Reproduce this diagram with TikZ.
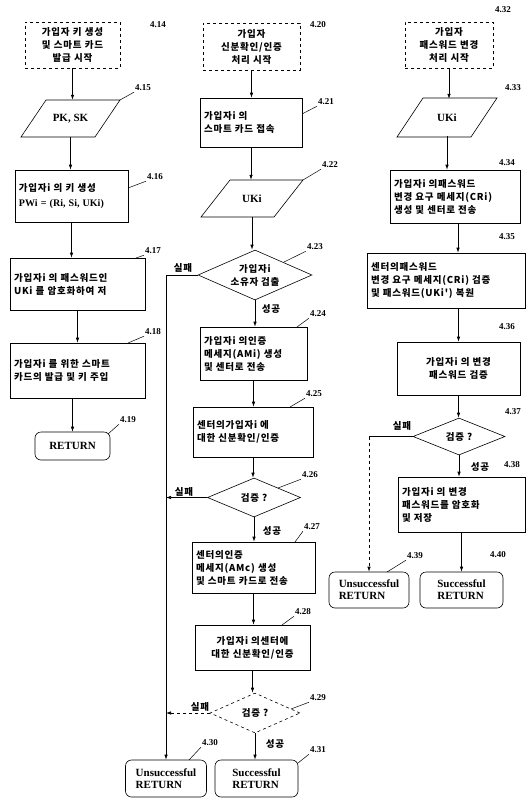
\documentclass[tikz,border=0pt]{standalone}
\usepackage{fontspec}
\setmainfont{Liberation Serif}
\newfontfamily\kr{Noto Sans CJK KR}[LetterSpace=8]
\usetikzlibrary{shapes.geometric,arrows.meta,calc}
\tikzset{
  box/.style={draw, line width=0.6pt, inner xsep=4pt, inner ysep=2pt, font=\kr\bfseries\fontsize{9.5}{13}\selectfont, align=left},
  startbox/.style={box, dashed, align=center},
  lbl/.style={font=\bfseries\fontsize{9}{9}\selectfont, inner sep=1pt},
  arr/.style={-{Latex[length=5pt,width=3.5pt]}, line width=0.7pt},
  ln/.style={line width=0.6pt},
  leader/.style={line width=0.5pt},
  rbox/.style={draw, rounded corners=6pt, line width=0.6pt, font=\bfseries\fontsize{11}{12}\selectfont, align=left, inner sep=2pt},
  dia/.style={diamond, draw, line width=0.6pt, inner sep=0pt},
  lat/.style={font=\bfseries\fontsize{11}{12}\selectfont},
  kt/.style={font=\kr\bfseries\fontsize{9.5}{13}\selectfont, align=center, inner sep=0pt},
  fs/.style={font=\kr\bfseries\fontsize{9.5}{10}\selectfont, inner sep=1pt}
}
\begin{document}
\begin{tikzpicture}[x=1pt,y=-1pt]
\useasboundingbox (0,0) rectangle (530,798);
\fill[white] (0,0) rectangle (530,798);

% ---------------- left column ----------------
\node[startbox, minimum width=95pt, minimum height=46pt, text width=87pt] (n414) at (72.5,45) {가입자 키 생성\\및 스마트 카드\\발급 시작};
\node[lbl] (l414) at (158,25) {4.14};

\draw[ln] (46,100) -- (120,100) -- (95,137) -- (21,137) -- cycle;
\node[lat, minimum width=50pt, minimum height=37pt, inner sep=0pt] (p415) at (70.5,118.5) {PK, SK};
\coordinate (c415) at (120,100);
\node[lbl] (l415) at (143,88) {4.15};

\node[box, minimum width=113pt, minimum height=52pt, text width=105pt] (n416) at (71.5,196) {가입자i 의 키 생성\\[2pt]{\rmfamily\bfseries\fontsize{10}{12}\selectfont PWi = (Ri, Si, UKi)}};
\coordinate (c416) at (128,188);
\node[lbl] (l416) at (155,177) {4.16};

\node[box, minimum width=135pt, minimum height=52pt, text width=127pt] (n417) at (77.5,284) {가입자i 의 패스워드인\\UKi 를 암호화하여 저};
\coordinate (c417) at (136,258);
\node[lbl] (l417) at (153,251) {4.17};

\node[box, minimum width=135pt, minimum height=55pt, text width=127pt] (n418) at (77.5,370.5) {가입자i 를 위한 스마트\\카드의 발급 및 키 주입};
\coordinate (c418) at (128,343);
\node[lbl] (l418) at (153,332) {4.18};

\node[rbox, minimum width=75pt, minimum height=28pt, align=center] (n419) at (72.5,446) {RETURN};
\coordinate (c419) at (108,434);
\node[lbl] (l419) at (128,420) {4.19};

\draw[arr] (n414.south) -- (n414.south |- p415.north);
\draw[arr] (p415.south) -- (p415.south |- n416.north);
\draw[arr] (n416.south) -- (n416.south |- n417.north);
\draw[arr] (n417.south) -- (n417.south |- n418.north);
\draw[arr] (n418.south -| n419.north) -- (n419.north);

% ---------------- middle column ----------------
\node[startbox, minimum width=97pt, minimum height=47pt, text width=89pt] (n420) at (251.5,46.5) {가입자\\신분확인/인증\\처리 시작};
\node[lbl] (l420) at (318,25) {4.20};

\node[box, minimum width=102pt, minimum height=49pt, text width=94pt] (n421) at (251,122.5) {가입자i 의\\스마트 카드 접속};
\coordinate (c421) at (302,114);
\node[lbl] (l421) at (326,102) {4.21};

\draw[ln] (230,180) -- (303,180) -- (274,217) -- (201,217) -- cycle;
\node[lat, minimum width=50pt, minimum height=37pt, inner sep=0pt] (p422) at (252,198.5) {UKi};
\coordinate (c422) at (303,180);
\node[lbl] (l422) at (330,165) {4.22};

\node[dia, minimum width=114pt, minimum height=50pt] (d423) at (255,275) {};
\node[kt] (t423) at (d423.center) {가입자i\\소유자 검출};
\coordinate (c423) at (284,262);
\node[lbl] (l423) at (315,247) {4.23};
\node[fs] (f423) at (183,268) {실패};
\node[fs] (s423) at (271,309) {성공};

\node[box, minimum width=107pt, minimum height=53pt, text width=99pt] (n424) at (253.5,353.5) {가입자i 의인증\\메세지(AMi) 생성\\및 센터로 전송};
\coordinate (c424) at (297,327);
\node[lbl] (l424) at (318,314) {4.24};

\node[box, minimum width=120pt, minimum height=50pt, text width=112pt] (n425) at (253,432) {센터의가입자i 에\\대한 신분확인/인증};
\coordinate (c425) at (290,407);
\node[lbl] (l425) at (314,394) {4.25};

\node[dia, minimum width=93pt, minimum height=39pt] (d426) at (254,497.5) {};
\node[kt] (t426) at (d426.center) {검증 ?};
\coordinate (c426) at (278,488);
\node[lbl] (l426) at (310,475) {4.26};
\node[fs] (f426) at (184,492) {실패};
\node[fs] (s426) at (272,531) {성공};

\node[box, minimum width=123pt, minimum height=51pt, text width=115pt] (n427) at (253.5,567.5) {센터의인증\\메세지(AMc) 생성\\및 스마트 카드로 전송};
\coordinate (c427) at (295,542);
\node[lbl] (l427) at (312,527) {4.27};

\node[box, minimum width=115pt, minimum height=45pt, text width=107pt, align=center] (n428) at (252.5,647.5) {가입자i 의센터에\\대한 신분확인/인증};
\coordinate (c428) at (282,625);
\node[lbl] (l428) at (303,612) {4.28};

\node[dia, dashed, minimum width=90pt, minimum height=40pt] (d429) at (255,713) {};
\node[kt] (t429) at (d429.center) {검증 ?};
\coordinate (c429) at (291,709);
\node[lbl] (l429) at (318,698) {4.29};
\node[fs] (f429) at (200,707) {실패};
\node[fs] (s429) at (275,744) {성공};

\node[rbox, minimum width=81pt, minimum height=37pt] (n430) at (166,778.5) {Unsuccessful\\RETURN};
\coordinate (c430) at (189,760);
\node[lbl] (l430) at (210,743) {4.30};

\node[rbox, minimum width=83pt, minimum height=37pt] (n431) at (256.5,778.5) {Successful\\RETURN};
\coordinate (c431) at (298,763);
\node[lbl] (l431) at (318,750) {4.31};

\draw[arr] (n420.south) -- (n420.south |- n421.north);
\draw[arr] (n421.south) -- (n421.south |- p422.north);
\draw[arr] (p422.south) -- (p422.south |- d423.north);
\draw[arr] (d423.south) -- (d423.south |- n424.north);
\draw[arr] (n424.south) -- (n424.south |- n425.north);
\draw[arr] (n425.south) -- (n425.south |- d426.north);
\draw[arr] (d426.south) -- (d426.south |- n427.north);
\draw[arr] (n427.south) -- (n427.south |- n428.north);
\draw[arr] (n428.south) -- (n428.south |- d429.north);
\draw[arr] (d429.south) -- (d429.south |- n431.north);
\draw[arr] (d423.west) -| (n430.north);
\draw[arr] (d426.west) -- (d426.west -| n430.north);
\draw[arr, dashed] (d429.west) -- (d429.west -| n430.north);

% ---------------- right column ----------------
\node[startbox, minimum width=88pt, minimum height=46pt, text width=80pt] (n432) at (449,45) {가입자\\패스워드 변경\\처리 시작};
\node[lbl] (l432) at (503,10) {4.32};

\draw[ln] (423,98) -- (497,98) -- (471,137) -- (397,137) -- cycle;
\node[lat, minimum width=50pt, minimum height=37pt, inner sep=0pt] (p433) at (447,117.5) {UKi};
\node[lbl] (l433) at (513,88) {4.33};

\node[box, minimum width=130pt, minimum height=53pt, text width=122pt] (n434) at (455,196.5) {가입자i 의패스워드\\변경 요구 메세지(CRi)\\생성 및 센터로 전송};
\node[lbl] (l434) at (507,163) {4.34};

\node[box, minimum width=158pt, minimum height=55pt, text width=150pt] (n435) at (446,280.5) {센터의패스워드\\변경 요구 메세지(CRi) 검증\\및 패스워드(UKi') 복원};
\node[lbl] (l435) at (507,237) {4.35};

\node[box, minimum width=123pt, minimum height=53pt, text width=115pt, align=center] (n436) at (458.5,368.5) {가입자i 의 변경\\패스워드 검증};
\node[lbl] (l436) at (507,327) {4.36};

\node[dia, minimum width=92pt, minimum height=37pt] (d437) at (459,436.5) {};
\node[kt] (t437) at (d437.center) {검증 ?};
\node[lbl] (l437) at (513,412) {4.37};
\node[fs] (f437) at (402,426) {실패};
\node[fs] (s437) at (480,467) {성공};

\node[box, minimum width=127pt, minimum height=55pt, text width=119pt] (n438) at (461.5,504.5) {가입자i 의 변경\\패스워드를 암호화\\및 저장};
\node[lbl] (l438) at (512,465) {4.38};

\node[rbox, minimum width=80pt, minimum height=36pt] (n439) at (369,590) {Unsuccessful\\RETURN};
\coordinate (c439) at (387,572);
\node[lbl] (l439) at (415,556) {4.39};

\node[rbox, minimum width=83pt, minimum height=36pt] (n440) at (461.5,590) {Successful\\RETURN};
\node[lbl] (l440) at (498,555) {4.40};

\draw[arr] (n432.south) -- (n432.south |- p433.north);
\draw[arr] (p433.south) -- (p433.south |- n434.north);
\draw[arr] ([xshift=3pt]n434.south) -- ([xshift=3pt]n434.south |- n435.north);
\draw[arr] (n435.south -| n436.north) -- (n436.north);
\draw[arr] (n436.south) -- (n436.south |- d437.north);
\draw[arr] (d437.south) -- (d437.south |- n438.north);
\draw[arr] (n438.south) -- (n438.south |- n440.north);
\draw[ln] (d437.west) -- (d437.west -| n439.north);
\draw[arr, dashed] (d437.west -| n439.north) -- (n439.north);

% ---------------- leader lines ----------------
\draw[leader] (c415) -- (l415.south west);
\draw[leader] (c416) -- (l416.south west);
\draw[leader] (c417) -- (l417.south west);
\draw[leader] (c418) -- (l418.south west);
\draw[leader] (c419) -- (l419.south west);
\draw[leader] (c421) -- (l421.south west);
\draw[leader] (c422) -- (l422.south west);
\draw[leader] (c423) -- (l423.south west);
\draw[leader] (c424) -- (l424.south west);
\draw[leader] (c425) -- (l425.south west);
\draw[leader] (c426) -- (l426.south west);
\draw[leader] (c427) -- (l427.south west);
\draw[leader] (c428) -- (l428.south west);
\draw[leader] (c429) -- (l429.south west);
\draw[leader] (c430) -- (l430.south west);
\draw[leader] (c431) -- (l431.south west);
\draw[leader] (c439) -- (l439.south west);
\end{tikzpicture}
\end{document}
